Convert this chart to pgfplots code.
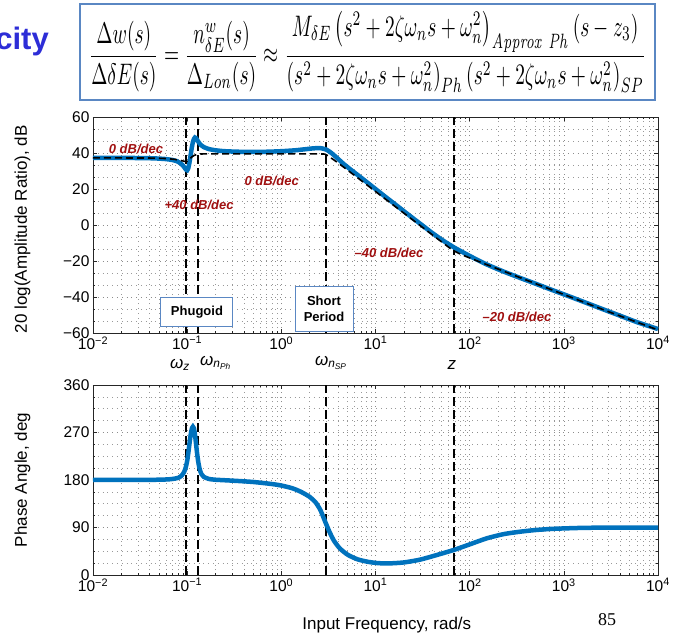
\documentclass[border=0pt]{standalone}
\usepackage[no-math]{fontspec}
\setmainfont{Liberation Sans}
\newfontfamily\seriffont{Liberation Serif}
\usepackage{graphicx}
\usepackage{pgfplots}
\pgfplotsset{compat=1.18}
\definecolor{mblue}{RGB}{0,114,189}
\definecolor{dred}{RGB}{160,16,16}
\definecolor{boxblue}{RGB}{90,135,195}
\definecolor{titleblue}{RGB}{45,45,215}

\tikzset{
  vline/.style={black, line width=2pt, dash pattern=on 9pt off 4pt},
  ann/.style={text=dred, font=\bfseries\itshape\fontsize{13}{15}\selectfont, inner sep=0pt},
}

\begin{document}
\begin{tikzpicture}
\path[use as bounding box] (0,0) rectangle (674pt,637pt);

% title fragment
\node[anchor=base east, inner sep=0pt, text=titleblue, font=\bfseries\fontsize{31}{34}\selectfont] at (49pt,587pt) {city};

% formula box
\node[draw=boxblue, line width=1.5pt, inner xsep=9pt, inner ysep=7pt] at (367.5pt,585pt)
{\resizebox*{557pt}{82pt}{$\displaystyle \frac{\Delta w(s)}{\Delta\delta E(s)}=\frac{n^{w}_{\delta E}(s)}{\Delta_{Lon}(s)}\approx\frac{M_{\delta E}\left(s^2+2\zeta\omega_n s+\omega_n^2\right)_{\mathit{Approx\ Ph}}\left(s-z_3\right)}{\left(s^2+2\zeta\omega_n s+\omega_n^2\right)_{Ph}\left(s^2+2\zeta\omega_n s+\omega_n^2\right)_{SP}}$}};

% ---------------- magnitude ----------------
\begin{axis}[at={(93pt,304pt)}, anchor=south west,
  scale only axis, width=565pt, height=216pt,
  xmode=log, xmin=0.01, xmax=10000,
  xtick={0.01,0.1,1,10,100,1000,10000},
  xticklabels={10\textsuperscript{−2},10\textsuperscript{−1},10\textsuperscript{0},10\textsuperscript{1},10\textsuperscript{2},10\textsuperscript{3},10\textsuperscript{4}},
  tick label style={font=\fontsize{15.5}{17}\selectfont},
  grid=both,
  major grid style={black!45, line width=0.6pt, dash pattern=on 0.8pt off 4pt},
  minor grid style={black!40, line width=0.6pt, dash pattern=on 0.8pt off 4pt},
  tick align=inside, xtick pos=both, ytick pos=both,
  major tick length=4pt, minor tick length=2pt,
  axis line style={black!85, line width=0.7pt},
  every tick/.style={black!85, line width=0.6pt},
  clip=false,
  ymin=-60, ymax=60, ytick={-60,-40,-20,0,20,40,60},
  yticklabels={−60,−40,−20,0,20,40,60}, minor y tick num=2,
  ylabel={20 log(Amplitude Ratio), dB},
  every axis y label/.style={at={(axis description cs:-0.125,0.48)}, rotate=90, anchor=center, font=\fontsize{17}{19}\selectfont},
]
\addplot[vline] coordinates {(0.098,-60) (0.098,60)};
\addplot[vline] coordinates {(0.13,-60) (0.13,60)};
\addplot[vline] coordinates {(3.0,-60) (3.0,60)};
\addplot[vline] coordinates {(68,-60) (68,60)};

\addplot[mblue, line width=4.5pt, smooth, tension=0.4] coordinates {
(0.01,37.3)(0.02,37.3)(0.03,37.2)(0.04,37.1)(0.05,36.9)(0.06,36.6)(0.07,36.1)(0.078,35.4)(0.085,34.3)(0.09,33.1)(0.094,31.8)(0.097,30.8)(0.1,30.4)(0.103,31.8)(0.106,35)(0.109,39)(0.112,43)(0.115,46)(0.118,47.8)(0.121,48.6)(0.124,48.3)(0.128,47.2)(0.133,45.8)(0.14,44.4)(0.15,43.3)(0.17,42.2)(0.2,41.5)(0.25,41)(0.35,40.7)(0.5,40.6)(0.7,40.7)(1,41)(1.4,41.5)(1.8,42.1)(2.2,42.6)(2.6,42.7)(3,41.9)(3.4,40)(3.9,37.3)(4.5,34.3)(5.5,30.6)(6.5,27.7)(8,24)(10,20)(13,15.3)(17,10.6)(22,6)(30,0.6)(40,-4.4)(52,-8.6)(68,-12.4)(85,-15.2)(110,-18.3)(150,-21.8)(220,-25.5)(320,-28.8)(500,-32.6)(750,-36.1)(1160,-39.8)(1700,-43.1)(2600,-46.8)(4000,-50.5)(6000,-54)(10000,-57.8)
};
\addplot[black, line width=1.6pt, dash pattern=on 7pt off 4pt, smooth, tension=0.3] coordinates {
(0.01,37.3)(0.04,37.2)(0.06,36.9)(0.075,36.4)(0.085,35.9)(0.093,35.4)(0.098,35.2)(0.102,35.6)(0.107,36.7)(0.112,37.8)(0.118,38.6)(0.125,39.1)(0.135,39.4)(0.16,39.5)(0.5,39.5)(2,39.5)(2.9,39.4)(3.1,38.6)(4,34.5)(6,27.5)(10,18.6)(20,6.6)(40,-5.4)(60,-12.4)(68,-14.3)(80,-16.2)(100,-18.3)(150,-21.9)(220,-25.3)(400,-30.6)(1000,-38.6)(3000,-48.2)(10000,-58.3)
};

\node[ann] at (axis cs:0.0286,42.2) {0 dB/dec};
\node[ann] at (axis cs:0.79,24.6) {0 dB/dec};
\node[ann] at (axis cs:0.134,11.1) {+40 dB/dec};
\node[ann] at (axis cs:13.9,-15.4) {–40 dB/dec};
\node[ann] at (axis cs:318,-50.9) {–20 dB/dec};

\node[draw=boxblue, fill=white, line width=0.9pt, minimum width=72pt, minimum height=29pt, font=\bfseries\fontsize{13}{15}\selectfont] at (axis cs:0.127,-48.3) {Phugoid};
\node[draw=boxblue, fill=white, line width=0.9pt, minimum width=58pt, minimum height=45pt, align=center, font=\bfseries\fontsize{13}{15.5}\selectfont] at (axis cs:2.84,-46.7) {Short\\Period};

\node[anchor=center, font=\fontsize{17}{19}\selectfont] at (axis cs:0.084,-60) [yshift=-32pt] {\textit{ω}\textsubscript{\textit{z}}};
\node[anchor=west, inner sep=0pt, font=\fontsize{17}{19}\selectfont] at (axis cs:0.137,-60) [yshift=-30pt] {\textit{ω}\textsubscript{\textit{n}\textsubscript{\textit{Ph}}}};
\node[anchor=west, inner sep=0pt, font=\fontsize{17}{19}\selectfont] at (axis cs:2.27,-60) [yshift=-30pt] {\textit{ω}\textsubscript{\textit{n}\textsubscript{\textit{SP}}}};
\node[anchor=center, font=\fontsize{17}{19}\selectfont] at (axis cs:64.9,-60) [yshift=-32pt] {\textit{z}};
\end{axis}

% ---------------- phase ----------------
\begin{axis}[at={(93pt,62pt)}, anchor=south west,
  scale only axis, width=565pt, height=190pt,
  xmode=log, xmin=0.01, xmax=10000,
  xtick={0.01,0.1,1,10,100,1000,10000},
  xticklabels={10\textsuperscript{−2},10\textsuperscript{−1},10\textsuperscript{0},10\textsuperscript{1},10\textsuperscript{2},10\textsuperscript{3},10\textsuperscript{4}},
  tick label style={font=\fontsize{15.5}{17}\selectfont},
  grid=both,
  major grid style={black!45, line width=0.6pt, dash pattern=on 0.8pt off 4pt},
  minor grid style={black!40, line width=0.6pt, dash pattern=on 0.8pt off 4pt},
  tick align=inside, xtick pos=both, ytick pos=both,
  major tick length=4pt, minor tick length=2pt,
  axis line style={black!85, line width=0.7pt},
  every tick/.style={black!85, line width=0.6pt},
  clip=false,
  ymin=0, ymax=360, ytick={0,90,180,270,360}, yticklabels={0,90,180,270,360}, minor y tick num=3,
  ylabel={Phase Angle, deg}, xlabel={Input Frequency, rad/s},
  every axis y label/.style={at={(axis description cs:-0.125,0.5)}, rotate=90, anchor=center, font=\fontsize{17}{19}\selectfont},
  every axis x label/.style={at={(axis description cs:0.52,-0.263)}, anchor=center, font=\fontsize{17}{19}\selectfont},
]
\addplot[vline] coordinates {(0.098,0) (0.098,360)};
\addplot[vline] coordinates {(0.13,0) (0.13,360)};
\addplot[vline] coordinates {(3.0,0) (3.0,360)};
\addplot[vline] coordinates {(68,0) (68,360)};

\addplot[mblue, line width=4.5pt, smooth, tension=0.4] coordinates {
(0.01,180)(0.04,180.3)(0.06,181)(0.07,182)(0.08,184)(0.087,188)(0.092,194)(0.096,202)(0.1,216)(0.103,232)(0.106,250)(0.109,266)(0.112,277)(0.115,281)(0.118,278)(0.121,266)(0.124,250)(0.127,233)(0.131,215)(0.136,200)(0.142,191)(0.15,186)(0.17,182)(0.2,180.5)(0.3,178.8)(0.5,176.3)(0.8,172.3)(1,169.5)(1.3,164.5)(1.62,157.5)(2,148)(2.3,138)(2.6,123)(3,96)(3.3,79)(3.65,64)(4.2,50)(5.1,38)(6.5,29.5)(8.3,25)(10.6,22.5)(14,22)(20,23.8)(29.6,29)(45,38)(68,47.5)(100,58)(152,69.5)(230,77.5)(342,82)(500,85.2)(773,87.5)(1500,89.2)(2600,89.7)(10000,90)
};
\end{axis}

\node[font=\seriffont\fontsize{18}{20}\selectfont] at (607pt,17pt) {85};
\end{tikzpicture}
\end{document}
